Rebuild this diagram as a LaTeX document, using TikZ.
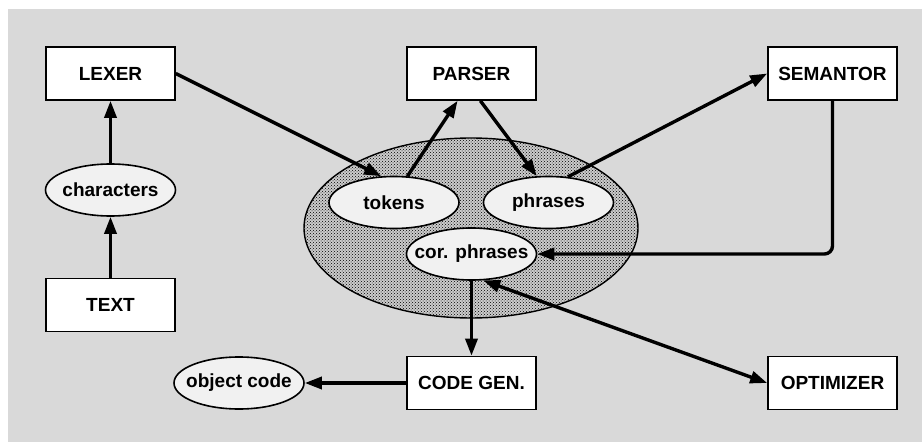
\documentclass[tikz,border=0pt]{standalone}
\usepackage{fontspec}
\setmainfont{Liberation Sans}
\usetikzlibrary{shapes.geometric,arrows.meta,patterns}
\definecolor{bggray}{HTML}{D9D9D9}
\definecolor{ellfill}{HTML}{F1F1F1}
\definecolor{bigfill}{HTML}{CCCCCC}
\tikzset{
  stagebox/.style={draw=black, fill=white, line width=1.6pt, minimum width=129pt, minimum height=53pt, inner sep=0pt, font=\bfseries\fontsize{19}{22}\selectfont},
  dataell/.style={ellipse, draw=black, fill=ellfill, line width=1.6pt, minimum width=130pt, minimum height=52pt, inner xsep=-40pt, inner ysep=-20pt, font=\bfseries\fontsize{19}{22}\selectfont},
  bigell/.style={ellipse, draw=black, line width=1.4pt, minimum width=334pt, minimum height=180pt, inner sep=0pt, preaction={fill=bigfill}, pattern=crosshatch dots, pattern color=black},
  arr/.style={line width=3.4pt, -{Triangle[length=17pt,width=12pt]}},
  darr/.style={line width=3.4pt, {Triangle[length=17pt,width=12pt]}-{Triangle[length=17pt,width=12pt]}},
}
\begin{document}
\begin{tikzpicture}[x=1pt,y=-1pt]
\useasboundingbox (0,0) rectangle (922,442);
\fill[bggray] (8,9) rectangle (922,442);
\node[bigell] (mem) at (471,228) {};
\node[stagebox] (lexer) at (110.5,73.5) {LEXER};
\node[stagebox] (parser) at (471.5,73.5) {PARSER};
\node[stagebox] (semantor) at (832.5,73.5) {SEMANTOR};
\node[stagebox] (text) at (110.5,305) {TEXT};
\node[stagebox] (codegen) at (471.5,383) {CODE GEN.};
\node[stagebox] (optimizer) at (832.5,383) {OPTIMIZER};
\node[dataell] (chars) at (110.5,190) {characters};
\node[dataell] (tokens) at (394,202.5) {tokens};
\node[dataell] (phrases) at (548.5,202.5) {phrases};
\node[dataell] (cor) at (471.5,254) {cor. phrases};
\node[dataell] (obj) at (239,383) {object code};
\draw[arr] (text.north) -- (chars.south);
\draw[arr] (chars.north) -- (lexer.south);
\draw[arr] (lexer.east) -- (tokens.116);
\draw[arr] (tokens.63) -- (parser.243);
\draw[arr] (parser.288) -- (phrases.114);
\draw[arr] (phrases.53) -- (semantor.west);
\draw[arr, rounded corners=8pt] (semantor.south) |- (cor.east);
\draw[arr] (cor.south) -- (codegen.north);
\draw[darr] (cor.294) -- (optimizer.west);
\draw[arr] (codegen.west) -- (obj.east);
\end{tikzpicture}
\end{document}
